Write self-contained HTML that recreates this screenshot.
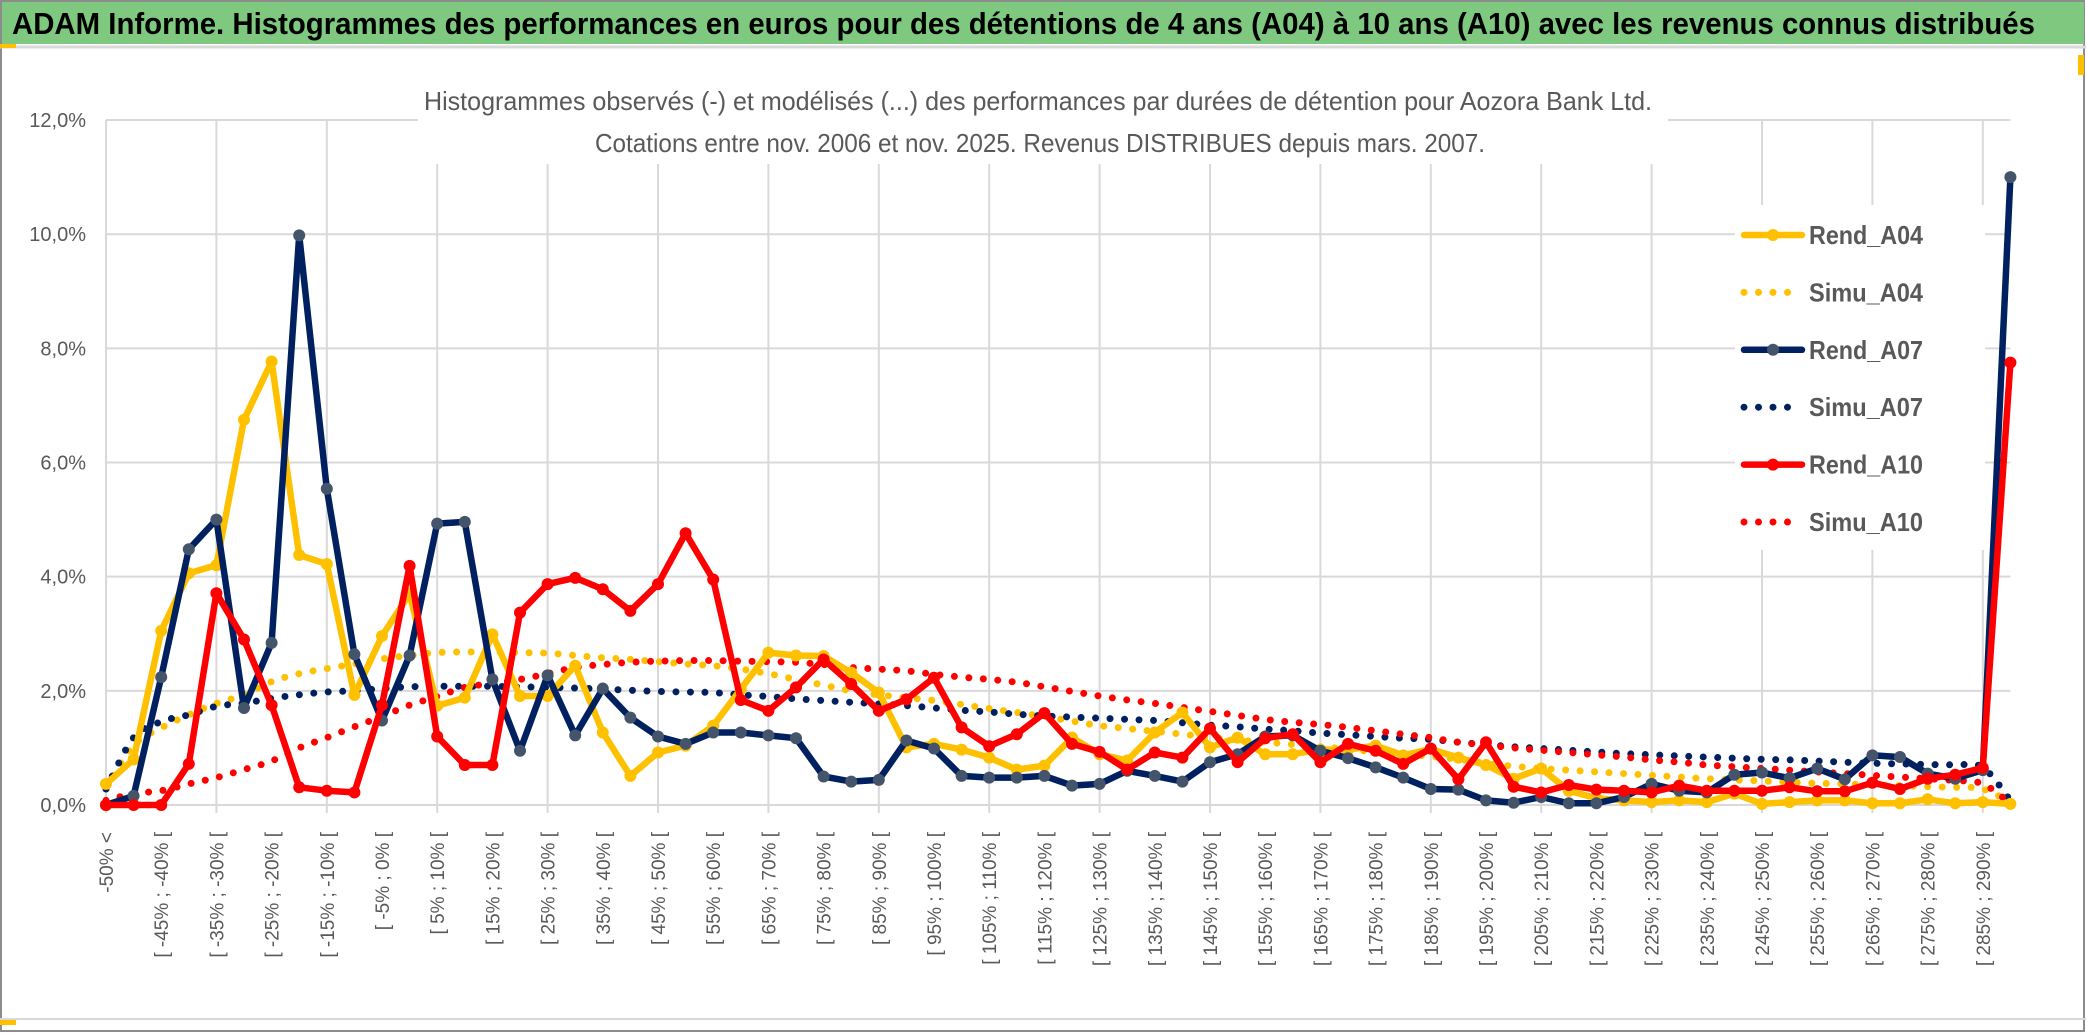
<!DOCTYPE html>
<html><head><meta charset="utf-8"><style>
html,body{margin:0;padding:0;background:#fff;}
svg{display:block;font-family:"Liberation Sans Narrow","Liberation Sans",sans-serif;}
</style></head><body>
<svg id="chart" width="2086" height="1033" viewBox="0 0 2086 1033" xmlns="http://www.w3.org/2000/svg">
<rect x="0" y="0" width="2086" height="1033" fill="#fff"/>
<rect x="1" y="1" width="2083" height="1030" fill="none" stroke="#8c8c8c" stroke-width="2"/>
<rect x="2" y="2" width="2082" height="42" fill="#7ec97f"/>
<text x="12" y="34" font-size="31" font-weight="bold" fill="#000" textLength="2023" lengthAdjust="spacingAndGlyphs">ADAM Informe. Histogrammes des performances en euros pour des détentions de 4 ans (A04) à 10 ans (A10) avec les revenus connus distribués</text>
<line x1="0" y1="47" x2="2086" y2="47" stroke="#d9d9d9" stroke-width="3"/>
<rect x="0" y="44" width="16" height="4" fill="#ffc000"/>
<rect x="0" y="1018" width="2086" height="2" fill="#d9d9d9"/>
<rect x="0" y="1020" width="16" height="5" fill="#ffc000"/>
<rect x="2078" y="55" width="6" height="20" fill="#ffc000"/>
<g id="grid"></g>
<g id="yaxis"></g>
<g id="xaxis"></g>
<rect x="418" y="72" width="1250" height="92" fill="#fff"/>
<text x="424" y="110" font-size="26" fill="#595959" textLength="1228" lengthAdjust="spacingAndGlyphs">Histogrammes observés (-) et modélisés (...) des performances par durées de détention pour Aozora Bank Ltd.</text>
<text x="595" y="152" font-size="26" fill="#595959" textLength="890" lengthAdjust="spacingAndGlyphs">Cotations entre nov. 2006 et nov. 2025. Revenus DISTRIBUES depuis mars. 2007.</text>
<g id="series"></g>
<g id="legend"></g>
</svg>
<script>
const categories = [];
categories.push('-50% <');
for (let k = 1; k < 70; k++) { categories.push('[ ' + (-55 + 5 * k) + '% ; ' + (-50 + 5 * k) + '% ['); }
const yTicks = [0, 2, 4, 6, 8, 10, 12];
const yTickLabels = ['0,0%', '2,0%', '4,0%', '6,0%', '8,0%', '10,0%', '12,0%'];
const rendA04 = [0.37,0.8,3.05,4.06,4.2,6.75,7.77,4.38,4.22,1.93,2.96,3.7,1.74,1.88,2.99,1.91,1.91,2.44,1.27,0.51,0.92,1.04,1.39,2.03,2.67,2.62,2.61,2.32,1.97,1.01,1.07,0.97,0.83,0.62,0.69,1.18,0.89,0.78,1.27,1.62,1.01,1.18,0.89,0.89,0.97,0.97,1.04,0.87,0.98,0.83,0.7,0.46,0.64,0.25,0.12,0.08,0.05,0.08,0.05,0.2,0.02,0.05,0.08,0.08,0.03,0.03,0.1,0.03,0.05,0.02];
const simuA04 = [0.3,1.05,1.35,1.58,1.78,1.93,2.16,2.3,2.39,2.47,2.56,2.62,2.67,2.68,2.68,2.67,2.66,2.62,2.58,2.55,2.51,2.47,2.44,2.38,2.3,2.2,2.1,2.0,1.93,1.88,1.83,1.76,1.69,1.62,1.55,1.47,1.39,1.34,1.29,1.24,1.19,1.14,1.1,1.06,1.02,0.98,0.93,0.89,0.85,0.8,0.73,0.68,0.64,0.61,0.58,0.55,0.52,0.49,0.46,0.44,0.42,0.4,0.38,0.37,0.35,0.34,0.32,0.31,0.28,0.05];
const rendA07 = [0,0.16,2.24,4.48,5.0,1.7,2.84,9.98,5.54,2.64,1.48,2.62,4.93,4.96,2.2,0.95,2.27,1.22,2.04,1.53,1.2,1.07,1.27,1.27,1.22,1.17,0.5,0.41,0.44,1.13,0.99,0.51,0.48,0.48,0.51,0.34,0.37,0.6,0.51,0.41,0.75,0.89,1.2,1.22,0.95,0.82,0.66,0.48,0.28,0.27,0.08,0.04,0.14,0.03,0.03,0.14,0.37,0.25,0.22,0.53,0.57,0.47,0.64,0.45,0.87,0.84,0.55,0.46,0.61,11.0];
const simuA07 = [0.28,1.18,1.46,1.58,1.73,1.78,1.87,1.93,1.98,2.0,2.04,2.07,2.08,2.08,2.08,2.07,2.06,2.05,2.03,2.01,1.99,1.98,1.97,1.93,1.9,1.86,1.83,1.8,1.77,1.74,1.7,1.66,1.63,1.59,1.56,1.54,1.52,1.5,1.48,1.44,1.4,1.37,1.33,1.3,1.26,1.23,1.2,1.17,1.15,1.1,1.06,1.02,0.99,0.96,0.93,0.9,0.88,0.86,0.84,0.82,0.8,0.79,0.77,0.75,0.73,0.72,0.71,0.7,0.66,0.08];
const rendA10 = [0,0,0,0.72,3.71,2.9,1.75,0.31,0.25,0.22,1.75,4.19,1.2,0.7,0.7,3.37,3.87,3.98,3.78,3.4,3.87,4.76,3.95,1.84,1.65,2.06,2.55,2.12,1.65,1.85,2.23,1.36,1.03,1.24,1.61,1.07,0.93,0.62,0.92,0.83,1.34,0.75,1.17,1.24,0.75,1.07,0.95,0.72,0.99,0.45,1.1,0.32,0.22,0.35,0.27,0.25,0.22,0.34,0.25,0.25,0.25,0.31,0.24,0.24,0.39,0.28,0.46,0.53,0.65,7.75];
const simuA10 = [0.08,0.2,0.25,0.37,0.48,0.62,0.77,1.0,1.18,1.37,1.55,1.75,1.9,2.06,2.13,2.2,2.3,2.41,2.46,2.5,2.52,2.53,2.53,2.52,2.51,2.5,2.46,2.41,2.38,2.35,2.29,2.24,2.2,2.15,2.07,1.99,1.91,1.84,1.78,1.71,1.64,1.57,1.5,1.45,1.41,1.36,1.3,1.24,1.18,1.1,1.05,1.0,0.96,0.92,0.88,0.84,0.79,0.75,0.7,0.67,0.64,0.61,0.58,0.55,0.52,0.49,0.46,0.43,0.37,0.03];
const seriesNames = ['Rend_A04','Simu_A04','Rend_A07','Simu_A07','Rend_A10','Simu_A10'];

const NS = 'http://www.w3.org/2000/svg';
const X0 = 106, XSTEP = 27.6, Y0 = 805, YPER = 57.08;
function xPos(i) { return X0 + i * XSTEP; }
function yPos(v) { return Y0 - v * YPER; }
function mk(tag, attrs, parent) {
  const e = document.createElementNS(NS, tag);
  for (const k in attrs) e.setAttribute(k, attrs[k]);
  parent.appendChild(e);
  return e;
}
const grid = document.getElementById('grid');
const yaxis = document.getElementById('yaxis');
const xaxis = document.getElementById('xaxis');
const n = categories.length;
const xEnd = xPos(n - 1);
yTicks.forEach((t, i) => {
  const l = mk('line', {x1: X0, x2: xEnd, y1: yPos(t), y2: yPos(t), stroke: '#d9d9d9', 'stroke-width': 2}, grid);
  
  
  const tx = mk('text', {x: 86, y: yPos(t) + 7, 'text-anchor': 'end', 'font-size': 20, fill: '#595959'}, yaxis);
  tx.textContent = yTickLabels[i];
  
  
});
for (let i = 0; i < n; i += 4) {
  const l = mk('line', {x1: xPos(i), x2: xPos(i), y1: yPos(12), y2: Y0 + 8, stroke: '#d9d9d9', 'stroke-width': 2}, grid);
  
  
}
for (let i = 0; i < n; i += 2) {
  const x = xPos(i) + 7, y = 832;
  const tx = mk('text', {x: x, y: y, 'text-anchor': 'end', 'font-size': 19, fill: '#595959', transform: 'rotate(-90 ' + x + ' ' + y + ')', 'font-family': '"Liberation Sans", sans-serif'}, xaxis);
  tx.textContent = categories[i];
  
  
}
const seriesG = document.getElementById('series');
function path(vals) { return vals.map((v, i) => (i ? 'L' : 'M') + xPos(i).toFixed(1) + ' ' + yPos(v).toFixed(1)).join(' '); }
function smoothPath(vals) {
  const p = vals.map((v, i) => [xPos(i), yPos(v)]);
  let d = 'M' + p[0][0] + ' ' + p[0][1];
  for (let i = 0; i < p.length - 1; i++) {
    const p0 = p[i - 1] || p[i], p1 = p[i], p2 = p[i + 1], p3 = p[i + 2] || p2;
    const c1x = p1[0] + (p2[0] - p0[0]) / 6, c1y = p1[1] + (p2[1] - p0[1]) / 6;
    const c2x = p2[0] - (p3[0] - p1[0]) / 6, c2y = p2[1] - (p3[1] - p1[1]) / 6;
    d += ' C' + c1x.toFixed(1) + ' ' + c1y.toFixed(1) + ' ' + c2x.toFixed(1) + ' ' + c2y.toFixed(1) + ' ' + p2[0].toFixed(1) + ' ' + p2[1].toFixed(1);
  }
  return d;
}
function dotted(vals, color, name) {
  const p = mk('path', {d: smoothPath(vals), fill: 'none', stroke: color, 'stroke-width': 7, 'stroke-linecap': 'round', 'stroke-dasharray': '0 14.5'}, seriesG);
  
  
}
function solid(vals, color, marker, name) {
  const g = mk('g', {}, seriesG);
  
  
  mk('path', {d: path(vals), fill: 'none', stroke: color, 'stroke-width': 6.5, 'stroke-linejoin': 'round'}, g);
  vals.forEach((v, i) => {
    const c = mk('circle', {cx: xPos(i), cy: yPos(v), r: 6, fill: marker}, g);
    
    
  });
}
dotted(simuA04, '#ffc000', 'simu-a04-line');
dotted(simuA07, '#002060', 'simu-a07-line');
dotted(simuA10, '#ff0000', 'simu-a10-line');
solid(rendA04, '#ffc000', '#ffc000', 'rend-a04-line');
solid(rendA07, '#002060', '#44546a', 'rend-a07-line');
solid(rendA10, '#ff0000', '#ff0000', 'rend-a10-line');

const legend = document.getElementById('legend');
const lb = mk('rect', {x: 1735, y: 205, width: 250, height: 345, fill: '#fff'}, legend);


const legColors = ['#ffc000','#ffc000','#002060','#002060','#ff0000','#ff0000'];
const legMarkers = ['#ffc000',null,'#44546a',null,'#ff0000',null];
seriesNames.forEach((s, i) => {
  const y = 235 + i * 57.4;
  const g = mk('g', {}, legend);
  
  
  if (legMarkers[i]) {
    mk('line', {x1: 1744, x2: 1802, y1: y, y2: y, stroke: legColors[i], 'stroke-width': 6.5, 'stroke-linecap': 'round'}, g);
    mk('circle', {cx: 1773, cy: y, r: 6, fill: legMarkers[i]}, g);
  } else {
    mk('line', {x1: 1744, x2: 1800, y1: y, y2: y, stroke: legColors[i], 'stroke-width': 7, 'stroke-linecap': 'round', 'stroke-dasharray': '0 14.5'}, g);
  }
  const t = mk('text', {x: 1809, y: y + 9, 'font-size': 26, 'font-weight': 'bold', fill: '#595959', textLength: 114, lengthAdjust: 'spacingAndGlyphs'}, g);
  t.textContent = s;
});
</script>
</body></html>
